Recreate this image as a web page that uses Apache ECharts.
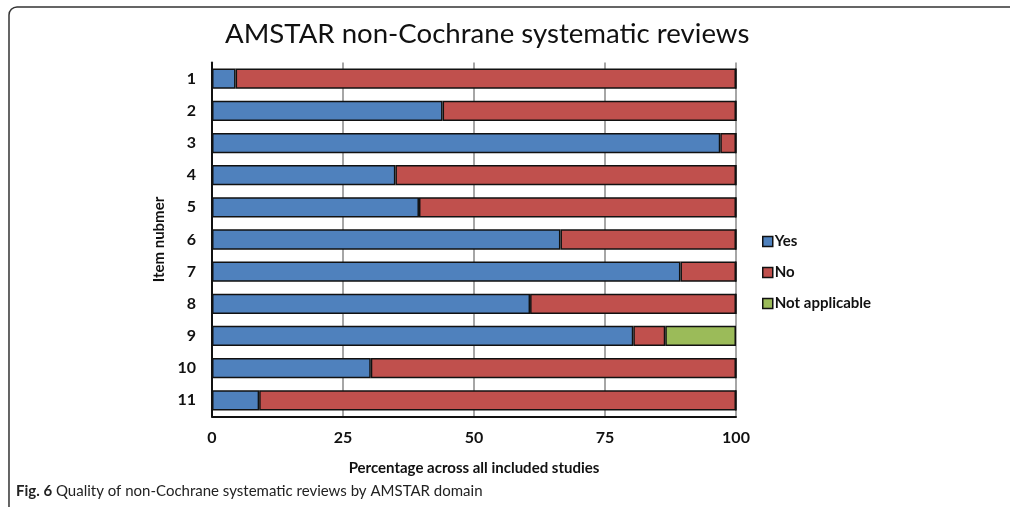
<!DOCTYPE html>
<html>
<head>
<meta charset="utf-8">
<script src="https://cdn.jsdelivr.net/npm/echarts@6/dist/echarts.min.js"></script>
<style>
  html, body { margin: 0; padding: 0; background: #fff; }
  #chart { width: 1010px; height: 507px; }
</style>
</head>
<body>
<div id="chart"></div>
<script>
// data (percent of studies)
const items = ['1', '2', '3', '4', '5', '6', '7', '8', '9', '10', '11']
const yesData = [4.5, 44, 97, 35, 39.5, 66.5, 89.4, 60.7, 80.4, 30.3, 9]
const noData = [95.5, 56, 3, 65, 60.5, 33.5, 10.6, 39.3, 6.1, 69.7, 91]
const naData = [0, 0, 0, 0, 0, 0, 0, 0, 13.5, 0, 0]
const xTicks = [0, 25, 50, 75, 100]

const font = 'Lato, "Open Sans", sans-serif'
const chart = echarts.init(document.getElementById('chart'))

const barStyle = (color) => ({
  color: color,
  borderColor: '#111',
  borderWidth: 1.5
})

const option = {
  animation: false,
  backgroundColor: '#fff',
  title: {
    text: 'AMSTAR non-Cochrane systematic reviews',
    left: 220,
    top: 15,
    textStyle: { fontFamily: font, fontSize: 27.6, fontWeight: 'normal', color: '#111' }
  },
  legend: {
    orient: 'vertical',
    left: 757,
    top: 229,
    itemGap: 16,
    itemWidth: 10,
    itemHeight: 10,
    icon: 'rect',
    data: ['Yes', 'No', 'Not applicable'],
    itemStyle: { borderColor: '#111', borderWidth: 1.5 },
    textStyle: { fontFamily: font, fontSize: 15, fontWeight: 'bold', color: '#111', padding: [0, 0, 0, -3] }
  },
  grid: { left: 212, right: 274, top: 62.6, bottom: 90.6 },
  xAxis: {
    type: 'value',
    min: 0,
    max: 100,
    interval: 25,
    name: 'Percentage across all included studies',
    nameLocation: 'middle',
    nameGap: 44,
    nameTextStyle: { fontFamily: font, fontSize: 15, fontWeight: 'bold', color: '#111' },
    axisLine: { show: true, lineStyle: { color: '#111', width: 2 } },
    axisTick: { show: false },
    axisLabel: {
      fontFamily: font, fontSize: 16, fontWeight: 'bold', color: '#111', margin: 13,
      formatter: (v) => xTicks.includes(v) ? String(v) : ''
    },
    splitLine: { show: true, lineStyle: { color: '#888', width: 1.5 } }
  },
  yAxis: {
    type: 'category',
    inverse: true,
    data: items,
    name: 'Item nubmer',
    nameLocation: 'middle',
    nameGap: 39,
    nameRotate: 90,
    nameTextStyle: { fontFamily: font, fontSize: 15, fontWeight: 'bold', color: '#111' },
    axisLine: { show: true, lineStyle: { color: '#111', width: 2 } },
    axisTick: { show: false },
    axisLabel: { fontFamily: font, fontSize: 16, fontWeight: 'bold', color: '#111', margin: 16 }
  },
  series: [
    { name: 'Yes', type: 'bar', stack: 'all', data: yesData, barWidth: '63%', itemStyle: barStyle('#4F81BD') },
    { name: 'No', type: 'bar', stack: 'all', data: noData, barWidth: '63%', itemStyle: barStyle('#C0504D') },
    { name: 'Not applicable', type: 'bar', stack: 'all', data: naData, barWidth: '63%', itemStyle: barStyle('#9BBB59') }
  ],
  graphic: [
    {
      type: 'rect',
      shape: { x: 9, y: 7, width: 1040, height: 540, r: 8 },
      style: { fill: 'none', stroke: '#333', lineWidth: 1.5 },
      silent: true
    },
    {
      type: 'text',
      left: 16,
      top: 484,
      style: {
        text: '{b|Fig. 6} Quality of non-Cochrane systematic reviews by AMSTAR domain',
        fontFamily: font,
        fontSize: 15,
        fill: '#222',
        rich: {
          b: { fontFamily: font, fontSize: 15, fontWeight: 'bold', fill: '#222' }
        }
      }
    }
  ]
}

chart.setOption(option)
</script>
</body>
</html>
